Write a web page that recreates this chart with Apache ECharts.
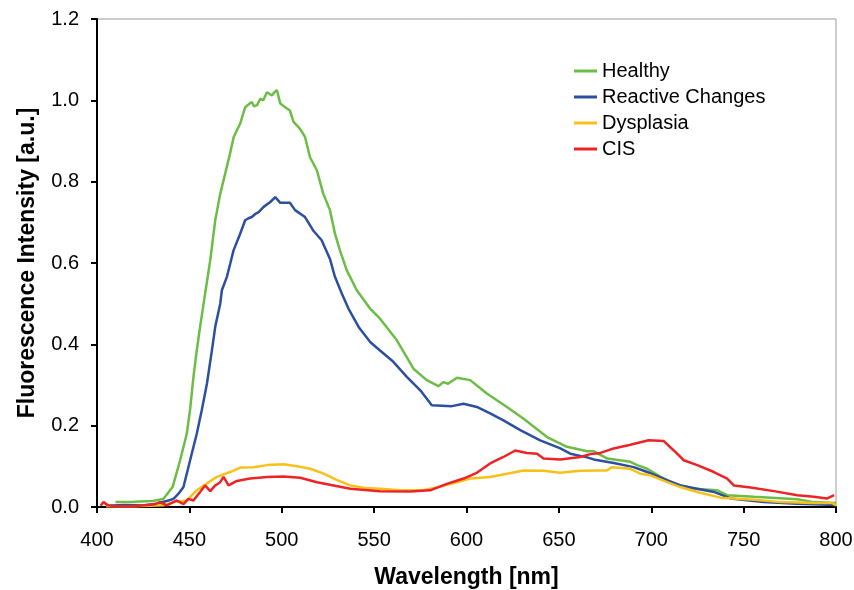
<!DOCTYPE html>
<html>
<head>
<meta charset="utf-8">
<script src="https://cdn.jsdelivr.net/npm/echarts@6/dist/echarts.min.js"></script>
<style>html,body{margin:0;padding:0;background:#fff}#c{width:854px;height:590px}</style>
</head>
<body>
<div id="c"></div>
<script>
const seriesNames = ["Healthy", "Reactive Changes", "Dysplasia", "CIS"];
const xTicks = [400, 450, 500, 550, 600, 650, 700, 750, 800];
const yTicks = [0, 0.2, 0.4, 0.6, 0.8, 1.0, 1.2];

const healthy = [[410,0.012],[420,0.013],[430,0.015],[436,0.02],[441,0.05],[445,0.115],[448.6,0.18],[450.4,0.24],[452.2,0.32],[454,0.385],[455.8,0.443],[457.7,0.5],[461.3,0.607],[464,0.705],[466.7,0.77],[469.4,0.82],[472,0.869],[474,0.91],[477.5,0.943],[480.2,0.983],[482,0.99],[483.8,0.996],[485,0.985],[486.6,0.988],[488.4,1.004],[490,1.0],[492,1.02],[494.7,1.012],[496,1.02],[497.4,1.025],[499.2,0.992],[502.8,0.98],[504.4,0.975],[506.4,0.947],[509.9,0.93],[512.6,0.91],[515.3,0.86],[519,0.828],[522.5,0.77],[526.1,0.73],[528.8,0.672],[531.5,0.631],[535.2,0.582],[540.6,0.533],[547.8,0.488],[553.2,0.463],[562.3,0.41],[571.3,0.34],[578.5,0.312],[584.8,0.297],[587.5,0.307],[590,0.303],[594.8,0.318],[602,0.312],[611,0.279],[621.9,0.246],[630.9,0.217],[643.6,0.172],[654.4,0.148],[665.3,0.137],[669,0.137],[676.2,0.119],[688.7,0.111],[692.4,0.103],[697.8,0.094],[705,0.074],[712.2,0.057],[723,0.045],[735.7,0.041],[741.1,0.029],[755.6,0.025],[779,0.019],[788,0.012],[800,0.01]];

const reactive = [[405,0.003],[415,0.005],[425,0.004],[432,0.008],[438.7,0.016],[441.4,0.02],[444,0.032],[446.8,0.049],[450.4,0.115],[454,0.18],[456.7,0.238],[459.5,0.303],[462.2,0.385],[464,0.443],[466.7,0.5],[467.6,0.533],[470.3,0.566],[472.1,0.598],[473.9,0.631],[477.5,0.672],[480.2,0.705],[482,0.71],[483.8,0.713],[485.5,0.72],[487.5,0.725],[490.2,0.738],[493.8,0.75],[496.5,0.762],[499.2,0.748],[502.8,0.748],[504.4,0.748],[507.2,0.73],[512.6,0.713],[517,0.68],[521.6,0.656],[526.1,0.61],[528.8,0.566],[532.5,0.525],[536.1,0.488],[542,0.44],[548,0.405],[553.2,0.385],[560.4,0.357],[567.7,0.32],[575,0.287],[581.2,0.25],[592.1,0.248],[598.4,0.254],[605.6,0.246],[612.8,0.23],[620,0.213],[629.1,0.189],[639.9,0.164],[650.8,0.144],[656.2,0.131],[665.3,0.122],[668.8,0.117],[679.7,0.108],[690.5,0.098],[697.8,0.086],[708.6,0.066],[715.8,0.053],[733.9,0.037],[742.9,0.021],[761,0.012],[779,0.008],[800,0.005]];

const dysplasia = [[405,0.002],[420,0.002],[436,0.004],[441.4,0.012],[448.6,0.016],[454,0.041],[459.5,0.058],[464.9,0.074],[472.1,0.086],[477.5,0.097],[484.8,0.098],[492,0.103],[501,0.105],[508.2,0.1],[515.5,0.094],[522.7,0.082],[530,0.066],[537.1,0.053],[545,0.047],[553.2,0.045],[564.1,0.041],[576.7,0.041],[584.8,0.049],[594.8,0.061],[602,0.07],[612.8,0.074],[621.9,0.082],[630.9,0.09],[641.7,0.089],[650.8,0.084],[661.6,0.089],[670.7,0.09],[676,0.09],[678.8,0.098],[688.7,0.094],[694.1,0.082],[699.6,0.078],[708.6,0.061],[715.8,0.049],[724.9,0.037],[737.5,0.023],[755.6,0.018],[769.9,0.012],[788,0.01],[798,0.01],[800,0.004]];

const cis = [[402,0.003],[403.5,0.012],[406,0.004],[410,0.002],[420,0.002],[431.4,0.007],[434,0.012],[437.8,0.004],[443.2,0.016],[446.8,0.007],[449.5,0.02],[452.2,0.016],[455.8,0.037],[458.5,0.053],[461.3,0.039],[464,0.053],[466.7,0.061],[468.5,0.074],[471.2,0.053],[475.7,0.064],[482.9,0.07],[492,0.074],[501,0.075],[510,0.072],[519.1,0.061],[528.1,0.053],[537.1,0.045],[553.2,0.039],[569.5,0.038],[580.3,0.041],[589.4,0.057],[598.4,0.07],[605.6,0.084],[612.8,0.107],[620,0.123],[626.4,0.139],[632.7,0.133],[638.2,0.131],[641.7,0.119],[650.8,0.117],[661.6,0.123],[667,0.13],[672.5,0.133],[679.7,0.144],[688.7,0.153],[698.6,0.164],[706.8,0.162],[712.2,0.139],[717.6,0.115],[724.9,0.103],[733.9,0.086],[741.1,0.07],[744.7,0.053],[753.8,0.048],[766.4,0.039],[779.1,0.029],[788,0.025],[795.3,0.021],[799,0.029]];

const colors = ["#6cbd45", "#2d4fa0", "#f7c11a", "#ee2326"];
const allData = [healthy, reactive, dysplasia, cis];

const chart = echarts.init(document.getElementById('c'));
const font = 'Liberation Sans, Arial, sans-serif';
chart.setOption({
  animation: false,
  backgroundColor: '#fff',
  grid: { left: 97, right: 18, top: 19, bottom: 83, containLabel: false, outerBoundsMode: 'none', show: true, borderColor: '#9a9a9a', borderWidth: 1 },
  legend: {
    orient: 'vertical', left: 569, top: 56, itemGap: 6,
    icon: 'rect', itemWidth: 23, itemHeight: 3,
    textStyle: { fontSize: 20, color: '#000', fontFamily: font },
    data: seriesNames
  },
  xAxis: {
    type: 'value', min: xTicks[0], max: xTicks[xTicks.length - 1], interval: 50,
    name: 'Wavelength [nm]', nameLocation: 'middle', nameGap: 59,
    nameTextStyle: { fontSize: 23, fontWeight: 'bold', color: '#000', fontFamily: font },
    axisLine: { lineStyle: { color: '#000', width: 2 } },
    axisTick: { show: true, inside: false, length: 6, lineStyle: { color: '#000', width: 2 } },
    axisLabel: { fontSize: 20, color: '#000', margin: 23, fontFamily: font },
    splitLine: { show: false }
  },
  yAxis: {
    type: 'value', min: yTicks[0], max: yTicks[yTicks.length - 1], interval: 0.2,
    name: 'Fluorescence Intensity [a.u.]', nameLocation: 'middle', nameGap: 58,
    nameTextStyle: { fontSize: 23, fontWeight: 'bold', color: '#000', fontFamily: font },
    axisLine: { show: true, lineStyle: { color: '#000', width: 2 } },
    axisTick: { show: true, inside: false, length: 6, lineStyle: { color: '#000', width: 2 } },
    axisLabel: { fontSize: 20, color: '#000', margin: 18, fontFamily: font, formatter: v => v.toFixed(1) },
    splitLine: { show: false }
  },
  series: seriesNames.map((n, i) => ({
    name: n, type: 'line', data: allData[i], showSymbol: false, symbol: 'none',
    lineStyle: { color: colors[i], width: 2.5 }, itemStyle: { color: colors[i] }
  }))
});
</script>
</body>
</html>
